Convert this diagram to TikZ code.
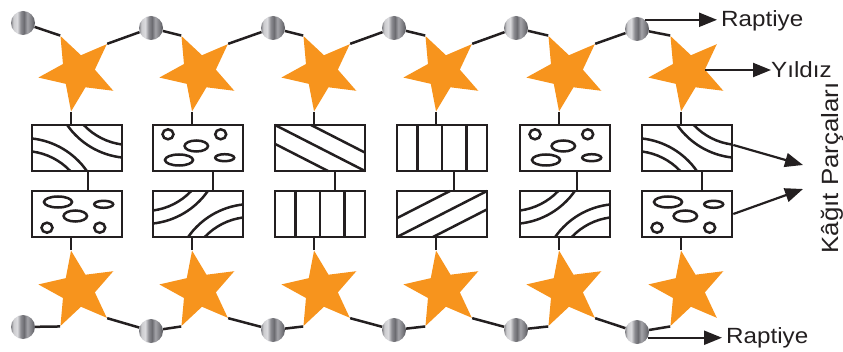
\documentclass[tikz,border=0pt]{standalone}
\usepackage{fontspec}
\setmainfont{Liberation Sans}[FakeStretch=1.1]
\usepackage{tikz}
\usetikzlibrary{arrows.meta,shapes.geometric}
\definecolor{inkc}{HTML}{231F20}
\definecolor{starc}{HTML}{F7941D}
\pgfdeclarehorizontalshading{pinshade}{100bp}{rgb(0bp)=(.5,.5,.52);rgb(25bp)=(.5,.5,.52);rgb(30bp)=(.8,.8,.81);rgb(38bp)=(.86,.86,.87);rgb(45bp)=(.55,.55,.57);rgb(52bp)=(.42,.42,.44);rgb(59bp)=(.64,.64,.66);rgb(67bp)=(.5,.5,.52);rgb(75bp)=(.34,.34,.36);rgb(100bp)=(.34,.34,.36)}
\tikzset{
  ln/.style={line width=2.5pt,draw=inkc},
  ar/.style={line width=2.2pt,draw=inkc,-{Triangle[length=18pt,width=14pt]}},
  pn/.style={circle,minimum size=24pt,inner sep=0pt,shading=pinshade},
  st/.style={star,star points=5,star point ratio=2.35,minimum size=80pt,inner sep=0pt,fill=starc},
  pc/.style={draw=inkc,line width=2.6pt,minimum width=90pt,minimum height=46pt,inner sep=0pt},
  lbl/.style={font=\fontsize{22}{26}\selectfont,text=inkc,inner sep=0pt}
}
\newcommand\woodarcs{\foreach \r in {0,180}{\draw[ln,rotate=\r] (-45,9.5) arc[start angle=83.8,end angle=34.8,radius=77] (-45,-3.5) arc[start angle=82.6,end angle=43.4,radius=64];}}
\newcommand\blobset{\draw[ln] (-30,13.7) ellipse[x radius=5.5,y radius=5] (-1.7,2) ellipse[x radius=11.7,y radius=5.5]
  (22.7,13.7) ellipse[x radius=5.5,y radius=5] (-19,-12) ellipse[x radius=14,y radius=5.5]
  (26.7,-9.7) ellipse[x radius=9.5,y radius=3.5];}
\newcommand\diaglines{\draw[ln] (-45,23) -- (45,-23) (-9,23) -- (45,-4.6) (-45,4.1) -- (8,-23);}
\newcommand\vbarlines{\draw[ln] (-24.5,-23) -- (-24.5,23) (0,-23) -- (0,23) (24.5,-23) -- (24.5,23);}
\begin{document}
\begin{tikzpicture}[x=1pt,y=1pt]
\useasboundingbox (0,0) rectangle (843,351);
\foreach \i/\x in {1/77,2/198,3/320,4/442,5/565,6/687}{\node[pc] (t\i) at (\x,203) {}; \node[pc] (b\i) at (\x,137) {};}
\foreach \n/\f in {t1/1,t6/1,b2/-1,b5/-1}{\begin{scope}[shift={(\n.center)},yscale=\f]\woodarcs\end{scope}}
\foreach \n/\f in {t2/1,t5/1,b1/-1,b6/-1}{\begin{scope}[shift={(\n.center)},yscale=\f]\blobset\end{scope}}
\foreach \n/\f in {t3/1,b4/-1}{\begin{scope}[shift={(\n.center)},yscale=\f]\diaglines\end{scope}}
\foreach \n in {t4,b3}{\begin{scope}[shift={(\n.center)}]\vbarlines\end{scope}}
\foreach \i/\x/\m in {1/77/11,2/198/15,3/320/15,4/442/12,5/565/12,6/687/15}{
  \node[st,rotate=26] (s\i) at (\x+1,279) {};
  \node[st,rotate=10] (u\i) at (\x+1,61) {};
  \draw[ln] (s\i.outer point 3) -- (s\i.outer point 3 |- t\i.north);
  \draw[ln] (u\i.outer point 1) -- (u\i.outer point 1 |- b\i.south);
  \draw[ln] ([xshift=\m]t\i.south) -- ([xshift=\m]b\i.north);
}
\foreach \i/\x/\y/\z in {1/23/328/24,2/151/323/20,3/273/323/21,4/394/323/21,5/516/323/21,6/637/322/19}{
  \node[pn] (p\i) at (\x,\y) {};
  \node[pn] (q\i) at (\x,\z) {};
  \draw[ln] (p\i) -- (s\i.outer point 1);
  \draw[ln] (q\i) -- (u\i.outer point 3);
}
\foreach \i/\j in {1/2,2/3,3/4,4/5,5/6}{
  \draw[ln] (s\i.outer point 5) -- (p\j);
  \draw[ln] (u\i.outer point 4) -- (q\j);
}
\node[lbl,anchor=base west] (rt) at (721,324) {Raptiye};
\node[lbl,anchor=west] (yz) at (771,281) {Yıldız};
\node[lbl,anchor=base west] (rb) at (726,8) {Raptiye};
\node[lbl,font=\fontsize{23.5}{26}\selectfont,rotate=90,anchor=base] (kp) at (838,183) {Kâğıt Parçaları};
\coordinate (k1) at (803,186);
\coordinate (k2) at (803,162);
\draw[ar,shorten >=4pt] (p6.49) -- (p6.49 -| rt.west);
\draw[ar] ([shift={(17,2)}]s6.center) -- (yz.west);
\draw[ar,shorten >=4pt] (q6.-28) -- (q6.-28 -| rb.west);
\draw[ar] ([yshift=3pt]t6.east) -- (k1);
\draw[ar] (b6.east) -- (k2);
\end{tikzpicture}
\end{document}
